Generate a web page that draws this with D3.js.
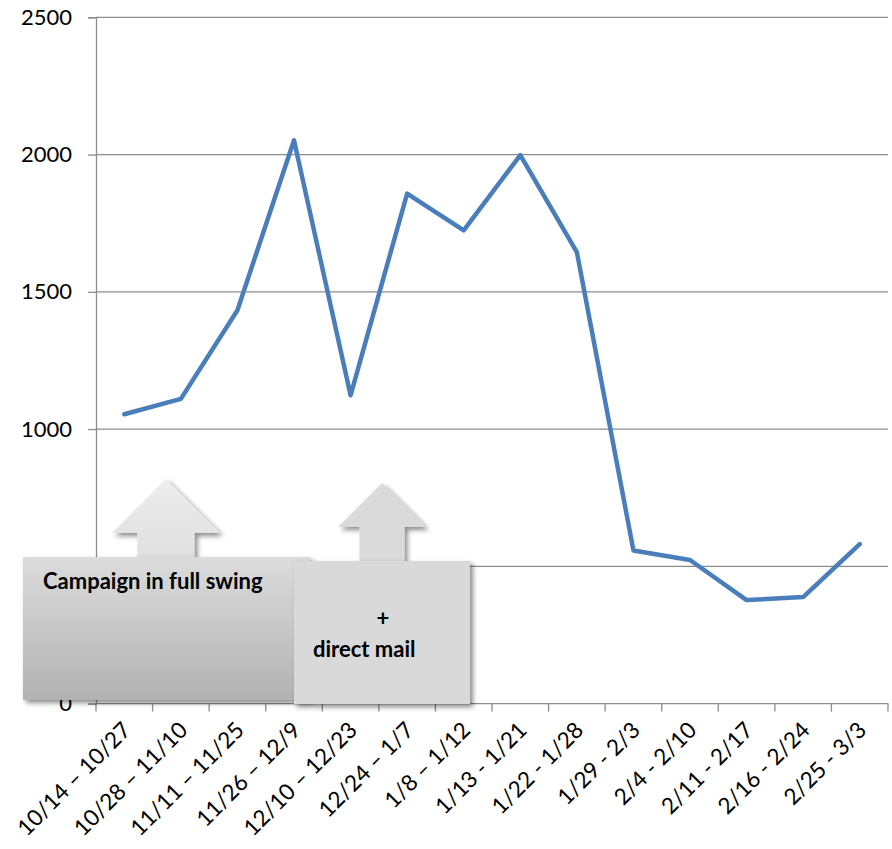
<!DOCTYPE html>
<html>
<head>
<meta charset="utf-8">
<script src="https://cdn.jsdelivr.net/npm/d3@7"></script>
<style>
  html, body { margin: 0; padding: 0; background: #fff; }
  svg { display: block; font-family: Lato, "Open Sans", sans-serif; }
</style>
</head>
<body>
<svg id="chart" width="892" height="849"></svg>
<script>
// Weekly responses over the campaign period
const periods = [
  "10/14 \u2013 10/27", "10/28 \u2013 11/10", "11/11 \u2013 11/25", "11/26 \u2013 12/9",
  "12/10 \u2013 12/23", "12/24 \u2013 1/7", "1/8 \u2013 1/12", "1/13 - 1/21",
  "1/22 - 1/28", "1/29 - 2/3", "2/4 - 2/10", "2/11 - 2/17", "2/16 - 2/24", "2/25 - 3/3"
];
const responses = [1054, 1110, 1433, 2052, 1123, 1858, 1724, 1998, 1645, 558, 523, 377, 388, 581];
const yTicks = [0, 500, 1000, 1500, 2000, 2500];

const svg = d3.select("#chart");
const margin = { left: 96, right: 4, top: 17.3, bottom: 145.4 };
const W = 892, H = 849;

const x = d3.scaleBand().domain(periods).range([margin.left, W - margin.right]);
const y = d3.scaleLinear().domain([0, 2500]).range([H - margin.bottom, margin.top]);

const defs = svg.append("defs");
const shadow = defs.append("filter").attr("id", "shadow")
  .attr("x", "-10%").attr("y", "-10%").attr("width", "130%").attr("height", "130%");
shadow.append("feDropShadow").attr("dx", 3).attr("dy", 3)
  .attr("stdDeviation", 2.5).attr("flood-color", "#000").attr("flood-opacity", 0.45);

const boxGrad = defs.append("linearGradient").attr("id", "boxGrad")
  .attr("x1", 0).attr("y1", 0).attr("x2", 0).attr("y2", 1);
boxGrad.append("stop").attr("offset", "0%").attr("stop-color", "#dcdcdc");
boxGrad.append("stop").attr("offset", "100%").attr("stop-color", "#b2b2b2");

const arrowGrad = defs.append("linearGradient").attr("id", "arrowGrad")
  .attr("x1", 0).attr("y1", 0).attr("x2", 0).attr("y2", 1);
arrowGrad.append("stop").attr("offset", "0%").attr("stop-color", "#ededed");
arrowGrad.append("stop").attr("offset", "100%").attr("stop-color", "#dcdcdc");

// Horizontal gridlines
svg.append("g")
  .selectAll("line").data(yTicks.filter(d => d > 0)).join("line")
  .attr("x1", margin.left).attr("x2", W - margin.right)
  .attr("y1", d => y(d)).attr("y2", d => y(d))
  .attr("stroke", "#8c8c8c").attr("stroke-width", 1.3);

// Y axis
const yAxis = svg.append("g")
  .attr("transform", `translate(${margin.left},0)`)
  .call(d3.axisLeft(y).tickValues(yTicks).tickSize(8).tickPadding(16).tickFormat(d3.format("d")));
yAxis.select(".domain").attr("stroke", "#8c8c8c").attr("stroke-width", 1.3);
yAxis.selectAll(".tick line").attr("stroke", "#8c8c8c").attr("stroke-width", 1.3);
yAxis.selectAll(".tick text").attr("fill", "#000").attr("font-size", 22)
  .attr("font-family", "Lato, sans-serif");

// X axis with ticks on band boundaries
const xAxisG = svg.append("g").attr("transform", `translate(0,${y(0)})`);
xAxisG.append("line").attr("x1", margin.left).attr("x2", W - margin.right)
  .attr("stroke", "#8c8c8c").attr("stroke-width", 1.3);
const bounds = periods.map(p => x(p)).concat([x(periods[periods.length - 1]) + x.bandwidth()]);
xAxisG.selectAll("line.tick").data(bounds).join("line").attr("class", "tick")
  .attr("x1", d => d).attr("x2", d => d).attr("y1", 0).attr("y2", 8)
  .attr("stroke", "#8c8c8c").attr("stroke-width", 1.3);
xAxisG.selectAll("text").data(periods).join("text")
  .attr("transform", d => `translate(${x(d) + x.bandwidth() / 2 + 8},28) rotate(-45)`)
  .attr("text-anchor", "end")
  .attr("font-size", 22.5).attr("fill", "#000")
  .text(d => d);

// Data line
const line = d3.line()
  .x((d, i) => x(periods[i]) + x.bandwidth() / 2)
  .y(d => y(d));
svg.append("path").datum(responses)
  .attr("d", line)
  .attr("fill", "none").attr("stroke", "#4a7ebb").attr("stroke-width", 4.5)
  .attr("stroke-linejoin", "round").attr("stroke-linecap", "round");

// Annotations: up arrows with callout boxes
function upArrow(cx, tipY, headY, headHalf, shaftHalf, bottomY) {
  return `M${cx},${tipY} L${cx + headHalf},${headY} L${cx + shaftHalf},${headY} ` +
         `L${cx + shaftHalf},${bottomY} L${cx - shaftHalf},${bottomY} ` +
         `L${cx - shaftHalf},${headY} L${cx - headHalf},${headY} Z`;
}
const ann = svg.append("g");
ann.append("path").attr("d", upArrow(166, 479, 533, 54, 28.5, 580))
  .attr("fill", "url(#arrowGrad)").attr("filter", "url(#shadow)");
ann.append("rect").attr("x", 23).attr("y", 557).attr("width", 287).attr("height", 143)
  .attr("fill", "url(#boxGrad)").attr("filter", "url(#shadow)");
ann.append("text").attr("x", 43).attr("y", 589)
  .attr("font-size", 22).attr("font-weight", "bold").attr("fill", "#000")
  .text("Campaign in full swing");

ann.append("path").attr("d", upArrow(382, 483, 527, 44, 22.5, 580))
  .attr("fill", "#dadada").attr("filter", "url(#shadow)");
ann.append("rect").attr("x", 294).attr("y", 561).attr("width", 176).attr("height", 143)
  .attr("fill", "#d9d9d9").attr("filter", "url(#shadow)");
ann.append("text").attr("x", 383).attr("y", 626).attr("text-anchor", "middle")
  .attr("font-size", 22).attr("font-weight", "bold").attr("fill", "#000").text("+");
ann.append("text").attr("x", 313).attr("y", 657)
  .attr("font-size", 22).attr("font-weight", "bold").attr("fill", "#000").text("direct mail");
</script>
</body>
</html>
